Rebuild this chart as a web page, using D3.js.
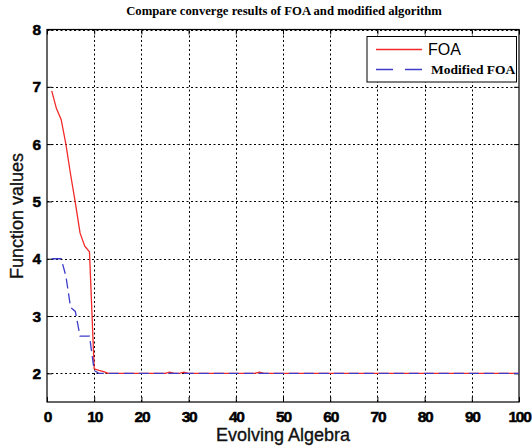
<!DOCTYPE html>
<html>
<head>
<meta charset="utf-8">
<script src="https://cdn.jsdelivr.net/npm/d3@7"></script>
<style>
  body { margin: 0; background: #fff; }
  svg { display: block; }
</style>
</head>
<body>
<svg id="chart"></svg>
<script>
// data
const foaX = [1, 2, 3, 4, 5, 6, 7, 8, 9, 10, 11, 12, 13, 25, 26, 27, 28, 29, 30, 44, 45, 46, 100];
const foaY = [6.93, 6.62, 6.43, 6.0, 5.47, 4.98, 4.45, 4.22, 4.12, 2.08, 2.05, 2.03, 2.0, 2.0, 2.02, 2.0, 2.0, 2.02, 2.0, 2.0, 2.02, 2.0, 2.0];
const modX = [1, 2, 3, 4, 5, 6, 7, 8, 9, 10, 11, 100];
const modY = [4.0, 4.0, 4.0, 3.7, 3.15, 3.08, 2.65, 2.65, 2.65, 2.05, 2.0, 2.0];
const xTicks = [0, 10, 20, 30, 40, 50, 60, 70, 80, 90, 100];
const yTicks = [2, 3, 4, 5, 6, 7, 8];
const seriesNames = ["FOA", "Modified FOA"];

const width = 532;
const height = 447;
const margin = { top: 29.5, right: 13, bottom: 45, left: 47 };

const svg = d3.select("#chart")
    .attr("width", width)
    .attr("height", height);

const x = d3.scaleLinear()
    .domain([0, 100])
    .range([margin.left, width - margin.right]);

const y = d3.scaleLinear()
    .domain([1.5, 8])
    .range([height - margin.bottom, margin.top]);

// title
svg.append("text")
    .attr("x", 284)
    .attr("y", 15)
    .attr("text-anchor", "middle")
    .style("font-family", "'Liberation Serif', 'Times New Roman', serif")
    .style("font-weight", "bold")
    .style("font-size", "12.7px")
    .text("Compare converge results of FOA and modified algorithm");

// grid
const grid = svg.append("g")
    .attr("stroke", "#000")
    .attr("stroke-width", 1)
    .attr("stroke-dasharray", "2,2.5");

grid.selectAll("line.vx")
    .data(xTicks.slice(1, -1))
    .join("line")
    .attr("x1", d => Math.round(x(d)) + 0.5)
    .attr("x2", d => Math.round(x(d)) + 0.5)
    .attr("y1", y(1.5))
    .attr("y2", y(8));

grid.selectAll("line.hy")
    .data(yTicks)
    .join("line")
    .attr("x1", x(0))
    .attr("x2", x(100))
    .attr("y1", d => Math.round(y(d)) + 0.5)
    .attr("y2", d => Math.round(y(d)) + 0.5);

// axes
const tickFont = g => g.selectAll("text")
    .style("font-family", "'Liberation Sans', Arial, sans-serif")
    .style("font-weight", "bold")
    .style("font-size", "15.5px")
    .style("letter-spacing", "-1.2px")
    .attr("fill", "#000")
    .attr("stroke", "#000")
    .attr("stroke-width", 0.5);

svg.append("g")
    .attr("transform", `translate(0, ${y(1.5)})`)
    .call(d3.axisBottom(x).tickValues(xTicks).tickSize(-5).tickPadding(9).tickFormat(d3.format("d")))
    .call(g => g.select(".domain").remove())
    .call(g => g.selectAll("line").attr("stroke", "#000"))
    .call(tickFont);

svg.append("g")
    .attr("transform", `translate(${x(0)}, 0)`)
    .call(d3.axisLeft(y).tickValues(yTicks).tickSize(-5).tickPadding(7).tickFormat(d3.format("d")))
    .call(g => g.select(".domain").remove())
    .call(g => g.selectAll("line").attr("stroke", "#000"))
    .call(tickFont);

svg.append("g")
    .attr("transform", `translate(0, ${y(8)})`)
    .call(d3.axisTop(x).tickValues(xTicks).tickSize(-5).tickFormat(""))
    .call(g => g.select(".domain").remove())
    .call(g => g.selectAll("line").attr("stroke", "#000"));

svg.append("g")
    .attr("transform", `translate(${x(100)}, 0)`)
    .call(d3.axisRight(y).tickValues(yTicks).tickSize(-5).tickFormat(""))
    .call(g => g.select(".domain").remove())
    .call(g => g.selectAll("line").attr("stroke", "#000"));

// frame
svg.append("rect")
    .attr("x", x(0))
    .attr("y", y(8))
    .attr("width", x(100) - x(0))
    .attr("height", y(1.5) - y(8))
    .attr("fill", "none")
    .attr("stroke", "#000")
    .attr("stroke-width", 1.2);

// lines
const line = d3.line()
    .x(d => x(d[0]))
    .y(d => y(d[1]));

svg.append("path")
    .datum(d3.zip(foaX, foaY))
    .attr("d", line)
    .attr("fill", "none")
    .attr("stroke", "#f22a2a")
    .attr("stroke-width", 1.3);

svg.append("path")
    .datum(d3.zip(modX, modY))
    .attr("d", line)
    .attr("fill", "none")
    .attr("stroke", "#3d3dc8")
    .attr("stroke-width", 1.3)
    .attr("stroke-dasharray", "10,5");

// axis labels
svg.append("text")
    .attr("x", 283)
    .attr("y", 441)
    .attr("text-anchor", "middle")
    .style("font-family", "'Liberation Sans', Arial, sans-serif")
    .style("font-size", "18px")
    .attr("fill", "#111")
    .attr("stroke", "#111")
    .attr("stroke-width", 0.35)
    .text("Evolving Algebra");

svg.append("text")
    .attr("transform", "translate(23, 216) rotate(-90)")
    .attr("text-anchor", "middle")
    .style("font-family", "'Liberation Sans', Arial, sans-serif")
    .style("font-size", "18px")
    .attr("fill", "#111")
    .attr("stroke", "#111")
    .attr("stroke-width", 0.35)
    .text("Function values");

// legend
const legend = svg.append("g");
legend.append("rect")
    .attr("x", 367)
    .attr("y", 36.5)
    .attr("width", 149.5)
    .attr("height", 45.5)
    .attr("fill", "#fff")
    .attr("stroke", "#000")
    .attr("stroke-width", 1);

legend.append("line")
    .attr("x1", 376).attr("x2", 422)
    .attr("y1", 49.5).attr("y2", 49.5)
    .attr("stroke", "#f22a2a")
    .attr("stroke-width", 1.3);

legend.append("line")
    .attr("x1", 376).attr("x2", 422)
    .attr("y1", 69.5).attr("y2", 69.5)
    .attr("stroke", "#3d3dc8")
    .attr("stroke-width", 1.3)
    .attr("stroke-dasharray", "17,12");

legend.append("text")
    .attr("x", 428)
    .attr("y", 55)
    .style("font-family", "'Liberation Sans', Arial, sans-serif")
    .style("font-size", "16px")
    .text(seriesNames[0]);

legend.append("text")
    .attr("x", 431)
    .attr("y", 74)
    .style("font-family", "'Liberation Serif', 'Times New Roman', serif")
    .style("font-weight", "bold")
    .style("font-size", "13.5px")
    .text(seriesNames[1]);
</script>
</body>
</html>
